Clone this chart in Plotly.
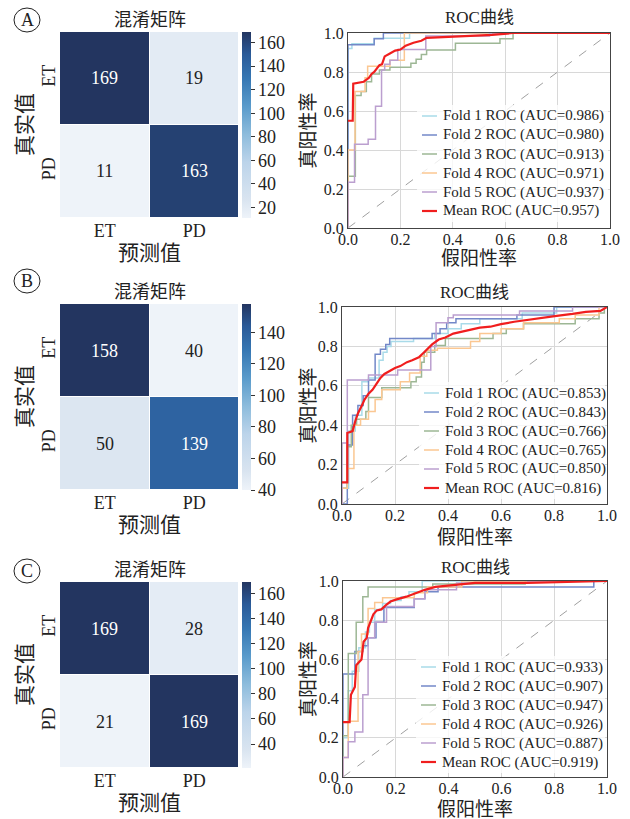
import plotly.graph_objects as go

W, H = 630, 819

# ---------------- data ----------------
cm_labels = ["ET", "PD"]
cm_A = [[169, 19], [11, 163]]
cm_B = [[158, 40], [50, 139]]
cm_C = [[169, 28], [21, 169]]

fold_names = ["Fold 1", "Fold 2", "Fold 3", "Fold 4", "Fold 5"]
auc_A = [0.986, 0.980, 0.913, 0.971, 0.937]
auc_B = [0.853, 0.843, 0.766, 0.765, 0.850]
auc_C = [0.933, 0.907, 0.947, 0.926, 0.887]
mean_auc = {"A": 0.957, "B": 0.816, "C": 0.919}

# fold ROC step corners (fpr, tpr) – drawn with horizontal-then-vertical steps
fpr_A = [
    [0, 0, 0.015, 0.10, 0.235, 1],
    [0, 0, 0.10, 0.135, 1],
    [0, 0, 0.028, 0.05, 0.07, 0.09, 0.12, 0.16, 0.24, 0.26, 0.28, 0.30, 0.41, 0.58, 0.63, 1],
    [0, 0, 0.027, 0.065, 0.075, 0.16, 0.215, 1],
    [0, 0, 0.025, 0.077, 0.105, 0.128, 0.14, 0.16, 0.19, 0.297, 0.54, 1],
]
tpr_A = [
    [0, 0.92, 0.945, 0.973, 1, 1],
    [0, 0.94, 0.97, 1, 1],
    [0, 0.265, 0.68, 0.70, 0.75, 0.79, 0.81, 0.825, 0.845, 0.865, 0.89, 0.913, 0.947, 0.97, 1, 1],
    [0, 0.40, 0.70, 0.77, 0.83, 0.86, 1, 1],
    [0, 0.235, 0.43, 0.455, 0.625, 0.81, 0.84, 0.86, 0.915, 0.985, 1, 1],
]
mean_fpr_A = [0, 0.018, 0.02, 0.05, 0.06, 0.08, 0.09, 0.10, 0.12, 0.13, 0.14, 0.16, 0.18, 0.20,
              0.22, 0.25, 0.28, 0.30, 0.40, 0.50, 0.55, 0.63, 1.0]
mean_tpr_A = [0.55, 0.55, 0.74, 0.745, 0.75, 0.77, 0.79, 0.80, 0.835, 0.84, 0.88, 0.895, 0.91, 0.915,
              0.935, 0.95, 0.96, 0.975, 0.98, 0.985, 0.99, 1.0, 1.0]

fpr_B = [
    [0, 0, 0.025, 0.05, 0.075, 0.10, 0.14, 0.155, 0.17, 0.185, 0.27, 0.35, 0.40, 0.45, 0.52, 0.68, 0.81, 1],
    [0, 0.02, 0.04, 0.06, 0.08, 0.10, 0.125, 0.145, 0.165, 0.18, 0.34, 0.37, 0.395, 0.43, 0.66, 0.80, 1],
    [0, 0, 0.02, 0.035, 0.055, 0.09, 0.10, 0.15, 0.26, 0.28, 0.30, 0.31, 0.35, 0.39, 0.57, 0.62, 0.685,
     0.88, 0.97, 0.99, 1],
    [0, 0, 0.02, 0.045, 0.07, 0.10, 0.125, 0.15, 0.22, 0.255, 0.295, 0.32, 0.36, 0.485, 0.52, 0.60, 0.685,
     0.82, 0.88, 0.97, 1],
    [0, 0, 0.02, 0.10, 0.21, 0.335, 0.355, 0.40, 0.42, 0.67, 0.87, 1],
]
tpr_B = [
    [0, 0.08, 0.37, 0.45, 0.62, 0.64, 0.73, 0.77, 0.80, 0.825, 0.84, 0.865, 0.89, 0.915, 0.94, 0.97, 1, 1],
    [0, 0.30, 0.45, 0.50, 0.55, 0.63, 0.76, 0.785, 0.81, 0.84, 0.865, 0.89, 0.92, 0.94, 0.96, 1, 1],
    [0, 0.08, 0.29, 0.40, 0.43, 0.47, 0.54, 0.59, 0.62, 0.645, 0.72, 0.77, 0.805, 0.84, 0.865, 0.89, 0.915,
     0.94, 0.97, 1, 1],
    [0, 0.08, 0.18, 0.40, 0.43, 0.47, 0.53, 0.58, 0.62, 0.665, 0.75, 0.78, 0.79, 0.825, 0.865, 0.89, 0.92,
     0.94, 0.96, 1, 1],
    [0, 0.31, 0.63, 0.655, 0.68, 0.80, 0.92, 0.945, 0.96, 0.98, 1, 1],
]
mean_fpr_B = [0, 0.02, 0.02, 0.04, 0.05, 0.06, 0.075, 0.085, 0.10, 0.115, 0.13, 0.145, 0.16, 0.18, 0.20,
              0.22, 0.245, 0.265, 0.29, 0.31, 0.325, 0.34, 0.365, 0.39, 0.42, 0.47, 0.52, 0.56, 0.60,
              0.65, 0.70, 0.76, 0.81, 0.87, 0.92, 0.975, 1.0]
mean_tpr_B = [0.11, 0.11, 0.36, 0.37, 0.42, 0.46, 0.50, 0.53, 0.56, 0.58, 0.61, 0.64, 0.66, 0.675, 0.69,
              0.70, 0.72, 0.73, 0.745, 0.77, 0.79, 0.81, 0.835, 0.845, 0.865, 0.88, 0.895, 0.90, 0.913,
              0.925, 0.935, 0.948, 0.955, 0.965, 0.975, 0.98, 1.0]

fpr_C = [
    [0, 0, 0.02, 0.035, 0.06, 0.085, 0.10, 0.12, 0.15, 0.18, 0.22, 0.25, 0.30, 1],
    [0, 0, 0.045, 0.075, 0.095, 0.125, 0.155, 0.27, 0.31, 0.36, 0.95, 1],
    [0, 0, 0.02, 0.05, 0.075, 0.095, 0.34, 0.69, 1],
    [0, 0, 0.02, 0.057, 0.07, 0.095, 0.12, 0.15, 0.27, 0.32, 0.45, 1],
    [0, 0, 0.02, 0.045, 0.075, 0.095, 0.12, 0.165, 0.27, 0.31, 0.43, 0.70, 1],
]
tpr_C = [
    [0, 0.20, 0.44, 0.54, 0.66, 0.74, 0.79, 0.855, 0.885, 0.90, 0.92, 0.945, 1, 1],
    [0, 0.525, 0.64, 0.67, 0.71, 0.79, 0.865, 0.91, 0.945, 0.97, 1, 1],
    [0, 0.21, 0.63, 0.79, 0.92, 0.97, 0.985, 1, 1],
    [0, 0.10, 0.285, 0.64, 0.73, 0.86, 0.89, 0.915, 0.94, 0.97, 1, 1],
    [0, 0.10, 0.18, 0.23, 0.42, 0.71, 0.79, 0.87, 0.91, 0.955, 0.99, 1, 1],
]
mean_fpr_C = [0, 0.025, 0.03, 0.045, 0.05, 0.06, 0.07, 0.078, 0.09, 0.095, 0.105, 0.115, 0.128, 0.145,
              0.165, 0.18, 0.20, 0.24, 0.28, 0.31, 0.35, 0.42, 0.50, 0.70, 1.0]
mean_tpr_C = [0.28, 0.28, 0.42, 0.46, 0.57, 0.585, 0.60, 0.69, 0.71, 0.76, 0.80, 0.83, 0.85, 0.855,
              0.88, 0.895, 0.905, 0.92, 0.94, 0.955, 0.97, 0.98, 0.99, 0.99, 1.0]

roc_ticks = [0.0, 0.2, 0.4, 0.6, 0.8, 1.0]
roc_ticktext = ["0.0", "0.2", "0.4", "0.6", "0.8", "1.0"]

# ---------------- style ----------------
SERIF = "Liberation Serif, Times New Roman, Noto Sans CJK SC, serif"
fold_colors = ["#a9dbe9", "#7388c8", "#9db795", "#fbc792", "#bb9fcf"]
mean_color = "#f01e1e"
blues = [[0.0, "#eef3f9"], [0.1, "#d9e4f0"], [0.3, "#bcd4ea"], [0.45, "#8dbcdc"],
         [0.6, "#5a9bcb"], [0.75, "#3677b3"], [0.88, "#2a5a98"], [1.0, "#233560"]]


def fx(px):
    return px / W


def fy(py):
    return 1 - py / H


panels = [
    dict(key="A", cm=cm_A, auc=auc_A, fpr=fpr_A, tpr=tpr_A, mf=mean_fpr_A, mt=mean_tpr_A,
         hm=(60, 239, 32, 218), roc=(348, 610, 33, 228), circle=(27, 20),
         hm_title=20, hm_xlab=253, roc_title=17, roc_xlab=258, leg=(422, 211)),
    dict(key="B", cm=cm_B, auc=auc_B, fpr=fpr_B, tpr=tpr_B, mf=mean_fpr_B, mt=mean_tpr_B,
         hm=(60, 239, 304, 490), roc=(342, 607, 307, 504), circle=(27, 281),
         hm_title=292, hm_xlab=525, roc_title=292, roc_xlab=537, leg=(424, 488)),
    dict(key="C", cm=cm_C, auc=auc_C, fpr=fpr_C, tpr=tpr_C, mf=mean_fpr_C, mt=mean_tpr_C,
         hm=(60, 239, 582, 768), roc=(343, 607, 581, 777), circle=(27, 571),
         hm_title=570, hm_xlab=803, roc_title=567, roc_xlab=809, leg=(421, 762)),
]

fig = go.Figure()
layout = dict(width=W, height=H, margin=dict(l=0, r=0, t=0, b=0, autoexpand=False),
              paper_bgcolor="white", plot_bgcolor="white",
              font=dict(family=SERIF, size=16, color="#222222"),
              showlegend=False)
annotations = []
shapes = []

for i, p in enumerate(panels):
    hx = 2 * i + 1
    rx = 2 * i + 2
    hxa = "x" if hx == 1 else f"x{hx}"
    hya = "y" if hx == 1 else f"y{hx}"
    rxa = f"x{rx}"
    rya = f"y{rx}"
    l, r, t, b = p["hm"]
    z = p["cm"]
    zmin = min(min(row) for row in z)
    zmax = max(max(row) for row in z)
    # heatmap
    fig.add_trace(go.Heatmap(
        z=z, x=cm_labels, y=cm_labels, xaxis=hxa, yaxis=hya,
        colorscale=blues, zmin=zmin, zmax=zmax, xgap=1, ygap=1, showscale=True,
        hoverinfo="skip",
        colorbar=dict(x=fx(242), xanchor="left", xpad=0, ypad=0, thickness=9,
                      len=(b - t) / H, lenmode="fraction",
                      y=fy((t + b) / 2), yanchor="middle", outlinewidth=0, ticks="outside",
                      ticklen=4, tickcolor="#333", tick0=0, dtick=20,
                      tickfont=dict(family=SERIF, size=18, color="#222")),
    ))
    for ri, row in enumerate(z):
        for ci, v in enumerate(row):
            frac = (v - zmin) / (zmax - zmin)
            annotations.append(dict(xref=hxa, yref=hya, x=cm_labels[ci], y=cm_labels[ri],
                                    text=str(v), showarrow=False,
                                    font=dict(family=SERIF, size=18,
                                              color="white" if frac > 0.6 else "#222")))
    layout["xaxis" if hx == 1 else f"xaxis{hx}"] = dict(
        domain=[fx(l), fx(r)], anchor=hya, showgrid=False, zeroline=False, ticks="",
        tickfont=dict(family=SERIF, size=18, color="#222"), showline=False)
    layout["yaxis" if hx == 1 else f"yaxis{hx}"] = dict(
        domain=[fy(b), fy(t)], anchor=hxa, showgrid=False, zeroline=False, ticks="",
        autorange="reversed", tickangle=-90,
        tickfont=dict(family=SERIF, size=18, color="#222"), showline=False)
    annotations.append(dict(xref="paper", yref="paper", x=fx((l + r) / 2), y=fy(p["hm_title"]),
                            text="混淆矩阵", showarrow=False, xanchor="center", yanchor="middle",
                            font=dict(family=SERIF, size=18, color="#222")))
    annotations.append(dict(xref="paper", yref="paper", x=fx((l + r) / 2), y=fy(p["hm_xlab"]),
                            text="预测值", showarrow=False, xanchor="center", yanchor="middle",
                            font=dict(family=SERIF, size=21, color="#222")))
    annotations.append(dict(xref="paper", yref="paper", x=fx(25), y=fy((t + b) / 2),
                            text="真实值", showarrow=False, textangle=-90, xanchor="center",
                            yanchor="middle", font=dict(family=SERIF, size=21, color="#222")))
    # panel letter
    cx, cy = p["circle"]
    shapes.append(dict(type="circle", xref="paper", yref="paper", x0=fx(cx - 13), x1=fx(cx + 13),
                       y0=fy(cy + 12), y1=fy(cy - 12), line=dict(color="#222", width=1)))
    annotations.append(dict(xref="paper", yref="paper", x=fx(cx), y=fy(cy), text=p["key"],
                            showarrow=False, xanchor="center", yanchor="middle",
                            font=dict(family=SERIF, size=18, color="#222")))

    # ROC
    L, R, T, B = p["roc"]
    fig.add_trace(go.Scatter(x=[0, 1], y=[0, 1], mode="lines", xaxis=rxa, yaxis=rya,
                             line=dict(color="#a0a0a0", width=1, dash="dash"),
                             hoverinfo="skip"))
    names = []
    colors = []
    widths = []
    for k in range(5):
        nm = f"{fold_names[k]} ROC (AUC={p['auc'][k]:.3f})"
        fig.add_trace(go.Scatter(
            x=p["fpr"][k], y=p["tpr"][k], mode="lines", xaxis=rxa, yaxis=rya,
            line=dict(color=fold_colors[k], width=1.5, shape="hv"), name=nm))
        names.append(nm)
        colors.append(fold_colors[k])
        widths.append(1.5)
    nm = f"Mean ROC (AUC={mean_auc[p['key']]:.3f})"
    fig.add_trace(go.Scatter(
        x=p["mf"], y=p["mt"], mode="lines", xaxis=rxa, yaxis=rya,
        line=dict(color=mean_color, width=2.2), name=nm))
    names.append(nm)
    colors.append(mean_color)
    widths.append(2.2)

    axis_common = dict(range=[0, 1], tickvals=roc_ticks, ticktext=roc_ticktext, showgrid=True,
                       gridcolor="#d8d8d8", gridwidth=1, zeroline=False, showline=True,
                       linecolor="#444", linewidth=1.2, mirror=True, ticks="",
                       tickfont=dict(family=SERIF, size=16, color="#222"))
    layout[f"xaxis{rx}"] = dict(domain=[fx(L), fx(R)], anchor=rya, ticklabelstandoff=-3,
                                **axis_common)
    layout[f"yaxis{rx}"] = dict(domain=[fy(B), fy(T)], anchor=rxa, **axis_common)

    # legend (drawn inside the plot, lower right)
    lx, ly_last = p["leg"]
    row_h = 19
    n = len(names)
    top_row = ly_last - row_h * (n - 1)
    shapes.append(dict(type="rect", xref="paper", yref="paper", layer="above",
                       x0=fx(lx - 5), x1=fx(R - 2), y0=fy(ly_last + 11), y1=fy(top_row - 11),
                       fillcolor="rgba(255,255,255,0.8)", line=dict(width=0)))
    for k in range(n):
        yy = top_row + row_h * k
        shapes.append(dict(type="line", xref="paper", yref="paper", layer="above",
                           x0=fx(lx), x1=fx(lx + 15), y0=fy(yy), y1=fy(yy),
                           line=dict(color=colors[k], width=widths[k])))
        annotations.append(dict(xref="paper", yref="paper", x=fx(lx + 19), y=fy(yy),
                                text=names[k], showarrow=False, xanchor="left", yanchor="middle",
                                font=dict(family=SERIF, size=15, color="#222")))

    annotations.append(dict(xref="paper", yref="paper", x=fx((L + R) / 2), y=fy(p["roc_title"]),
                            text="ROC曲线", showarrow=False, xanchor="center", yanchor="middle",
                            font=dict(family=SERIF, size=17, color="#222")))
    annotations.append(dict(xref="paper", yref="paper", x=fx((L + R) / 2), y=fy(p["roc_xlab"]),
                            text="假阳性率", showarrow=False, xanchor="center", yanchor="middle",
                            font=dict(family=SERIF, size=19, color="#222")))
    annotations.append(dict(xref="paper", yref="paper", x=fx(308), y=fy((T + B) / 2),
                            text="真阳性率", showarrow=False, textangle=-90, xanchor="center",
                            yanchor="middle", font=dict(family=SERIF, size=19, color="#222")))

layout["annotations"] = annotations
layout["shapes"] = shapes
fig.update_layout(**layout)
fig.write_html("out.html", config={"displayModeBar": False},
               post_script="document.body.style.margin='0';document.body.style.overflow='hidden';")
